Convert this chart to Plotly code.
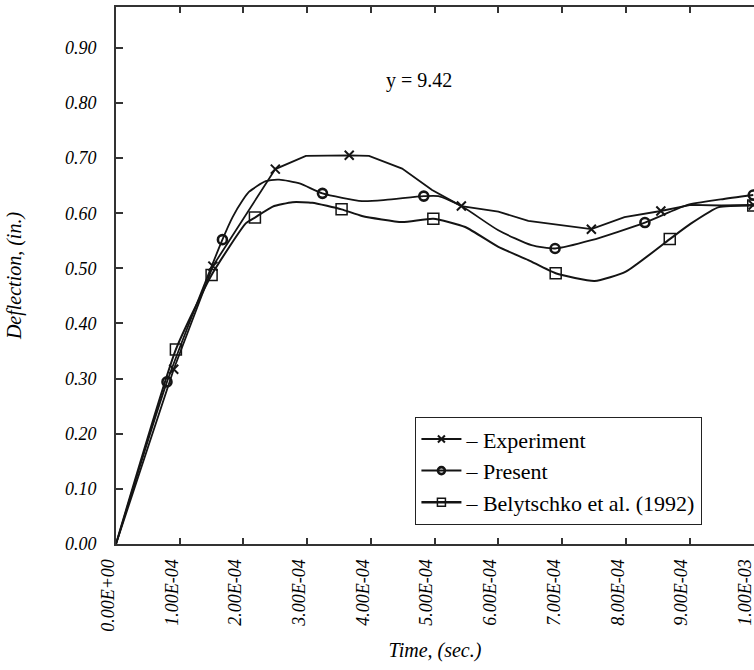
import plotly.graph_objects as go

# ---- data (time in seconds, deflection in inches) ----
exp_t = [0, 0.906e-4, 1.52e-4, 2.50e-4, 2.98e-4, 3.66e-4, 3.97e-4, 4.49e-4, 4.96e-4,
         5.42e-4, 6.00e-4, 6.47e-4, 7.46e-4, 7.98e-4, 8.55e-4, 9.02e-4, 9.50e-4, 1.0e-3]
exp_y = [0, 0.317, 0.504, 0.680, 0.704, 0.705, 0.704, 0.681, 0.642,
         0.613, 0.603, 0.586, 0.571, 0.593, 0.604, 0.615, 0.614, 0.615]
exp_mt = [0.906e-4, 1.52e-4, 2.50e-4, 3.66e-4, 5.42e-4, 7.46e-4, 8.55e-4, 1.0e-3]
exp_my = [0.317, 0.504, 0.680, 0.705, 0.613, 0.571, 0.604, 0.615]

pre_t = [0, 0.80e-4, 1.67e-4, 1.83e-4, 1.99e-4, 2.09e-4, 2.35e-4, 2.56e-4, 2.88e-4,
         3.24e-4, 3.86e-4, 4.23e-4, 4.83e-4, 5.06e-4, 5.42e-4, 6.00e-4, 6.52e-4,
         6.89e-4, 7.46e-4, 8.30e-4, 8.97e-4, 9.49e-4, 1.0e-3]
pre_y = [0, 0.294, 0.552, 0.593, 0.624, 0.639, 0.658, 0.661, 0.654,
         0.636, 0.622, 0.624, 0.631, 0.631, 0.613, 0.569, 0.542,
         0.536, 0.551, 0.583, 0.615, 0.625, 0.633]
pre_mt = [0.80e-4, 1.67e-4, 3.24e-4, 4.83e-4, 6.89e-4, 8.30e-4, 1.0e-3]
pre_my = [0.294, 0.552, 0.636, 0.631, 0.536, 0.583, 0.633]

bel_t = [0, 0.94e-4, 1.50e-4, 2.04e-4, 2.18e-4, 2.46e-4, 2.77e-4, 3.08e-4, 3.54e-4,
         3.86e-4, 4.49e-4, 4.98e-4, 5.48e-4, 6.00e-4, 6.47e-4, 6.90e-4, 7.51e-4,
         8.00e-4, 8.69e-4, 9.02e-4, 9.46e-4, 1.0e-3]
bel_y = [0, 0.353, 0.488, 0.582, 0.592, 0.612, 0.620, 0.619, 0.607,
         0.595, 0.584, 0.590, 0.575, 0.539, 0.515, 0.491, 0.477,
         0.494, 0.553, 0.581, 0.611, 0.614]
bel_mt = [0.94e-4, 1.50e-4, 2.18e-4, 3.54e-4, 4.98e-4, 6.90e-4, 8.69e-4, 1.0e-3]
bel_my = [0.353, 0.488, 0.592, 0.607, 0.590, 0.491, 0.553, 0.614]

x_ticks = [i * 1e-4 for i in range(11)]
x_ticktext = ["0.00E+00", "1.00E-04", "2.00E-04", "3.00E-04", "4.00E-04", "5.00E-04",
              "6.00E-04", "7.00E-04", "8.00E-04", "9.00E-04", "1.00E-03"]
y_ticks = [i / 10 for i in range(10)]
y_ticktext = ["0.00", "0.10", "0.20", "0.30", "0.40", "0.50", "0.60", "0.70", "0.80", "0.90"]

names = ["\u2013 Experiment", "\u2013 Present", "\u2013 Belytschko et al. (1992)"]

INK = "#141414"
SERIF = "Liberation Serif"

fig = go.Figure()

# lines
fig.add_trace(go.Scatter(x=exp_t, y=exp_y, mode="lines", line=dict(color=INK, width=1.8),
                         showlegend=False, hoverinfo="skip"))
fig.add_trace(go.Scatter(x=pre_t, y=pre_y, mode="lines", line=dict(color=INK, width=1.8, shape="spline", smoothing=0.6),
                         showlegend=False, hoverinfo="skip"))
fig.add_trace(go.Scatter(x=bel_t, y=bel_y, mode="lines", line=dict(color=INK, width=2.0, shape="spline", smoothing=0.5),
                         showlegend=False, hoverinfo="skip"))

mk_exp = dict(symbol="x-thin-open", size=9, color=INK, line=dict(color=INK, width=2))
mk_pre = dict(symbol="circle-open", size=9, color=INK, line=dict(color=INK, width=2.6))
mk_bel = dict(symbol="square-open", size=11, color=INK, line=dict(color=INK, width=1.5))

# markers
fig.add_trace(go.Scatter(x=exp_mt, y=exp_my, mode="markers", marker=mk_exp, showlegend=False, cliponaxis=False))
fig.add_trace(go.Scatter(x=pre_mt, y=pre_my, mode="markers", marker=mk_pre, showlegend=False, cliponaxis=False))
fig.add_trace(go.Scatter(x=bel_mt, y=bel_my, mode="markers", marker=mk_bel, showlegend=False, cliponaxis=False))

# legend entries
fig.add_trace(go.Scatter(x=[None], y=[None], mode="lines+markers", name=names[0],
                         line=dict(color=INK, width=2), marker=dict(mk_exp, size=7)))
fig.add_trace(go.Scatter(x=[None], y=[None], mode="lines+markers", name=names[1],
                         line=dict(color=INK, width=2), marker=dict(mk_pre, size=7)))
fig.add_trace(go.Scatter(x=[None], y=[None], mode="lines+markers", name=names[2],
                         line=dict(color=INK, width=2.6), marker=dict(mk_bel, size=8)))

fig.add_annotation(x=4.75e-4, y=0.841, xref="x", yref="y", text="y = 9.42", showarrow=False,
                   font=dict(family=SERIF, size=20, color="#000"))

fig.update_layout(
    width=754, height=670,
    margin=dict(l=116, r=0, t=7, b=126),
    paper_bgcolor="white", plot_bgcolor="white",
    font=dict(family=SERIF, color="#000"),
    showlegend=True,
    legend=dict(x=0.469, y=0.2365, xanchor="left", yanchor="top",
                bgcolor="white", bordercolor="#222", borderwidth=1.2,
                font=dict(family=SERIF, size=22, color="#000"),
                tracegroupgap=0, itemwidth=40),
    xaxis=dict(range=[0, 1.0012e-3], tickvals=x_ticks, ticktext=x_ticktext, tickangle=-90,
               ticks="inside", ticklen=6, tickwidth=2, tickcolor="#333",
               showline=True, linecolor="#333", linewidth=2, mirror="allticks",
               showgrid=False, zeroline=False, ticklabelshift=-8, ticklabelstandoff=6,
               ticklabeloverflow="allow",
               tickfont=dict(family=SERIF, size=18, style="italic"),
               title=dict(text="<i>Time, (sec.)</i>", font=dict(family=SERIF, size=20), standoff=12)),
    yaxis=dict(range=[0, 0.974], tickvals=y_ticks, ticktext=y_ticktext,
               ticks="inside", ticklen=7, tickwidth=2, tickcolor="#333",
               showline=True, linecolor="#333", linewidth=2, mirror=False,
               showgrid=False, zeroline=False, ticklabelstandoff=14,
               tickfont=dict(family=SERIF, size=18, style="italic"),
               title=dict(text="<i>Deflection, (in.)</i>", font=dict(family=SERIF, size=20), standoff=38)),
)

fig.write_html("out.html")
